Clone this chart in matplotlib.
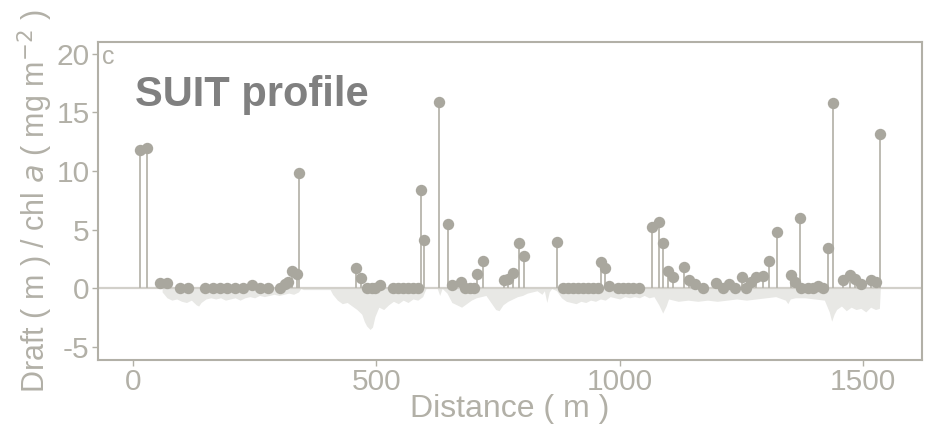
import numpy as np
import matplotlib
matplotlib.use("Agg")
import matplotlib.pyplot as plt

# Chlorophyll a along the SUIT transect (distance in m, chl a in mg m^-2)
chl_distance = [14, 29, 55, 70, 97, 113, 148, 164, 179, 193, 209, 226, 244, 261, 277,
                302, 312, 318, 326, 336, 341, 458, 468, 480, 490, 497, 507, 534, 544,
                555, 565, 575, 585, 591, 598, 629, 647, 656, 673, 682, 692, 700, 707,
                718, 762, 771, 781, 793, 803, 870, 884, 894, 904, 915, 925, 935, 945,
                956, 961, 970, 978, 997, 1007, 1017, 1028, 1040, 1066, 1080, 1089,
                1099, 1110, 1131, 1142, 1154, 1171, 1198, 1211, 1224, 1236, 1251,
                1260, 1270, 1279, 1293, 1307, 1322, 1352, 1359, 1370, 1373, 1387,
                1397, 1407, 1418, 1428, 1437, 1459, 1472, 1483, 1496, 1515, 1527, 1534]
chl_a = [11.8, 12.0, 0.45, 0.5, 0, 0, 0, 0, 0, 0, 0, 0, 0.25, 0, 0,
         0, 0.4, 0.55, 1.5, 1.2, 9.8, 1.7, 0.9, 0, 0, 0, 0.3, 0, 0,
         0, 0, 0, 0, 8.35, 4.15, 15.9, 5.5, 0.25, 0.55, 0, 0, 0, 1.25,
         2.3, 0.7, 0.8, 1.3, 3.9, 2.8, 3.95, 0, 0, 0, 0, 0, 0, 0,
         0, 2.25, 1.7, 0.2, 0, 0, 0, 0, 0, 5.2, 5.65, 3.9,
         1.5, 1.0, 1.8, 0.7, 0.4, 0, 0.45, 0.05, 0.35, 0, 1.0,
         0.05, 0.55, 1.0, 1.1, 2.35, 4.85, 1.15, 0.55, 6.0, 0, 0,
         0, 0.2, 0, 3.45, 15.8, 0.7, 1.15, 0.8, 0.4, 0.75, 0.55, 13.2]

# Ice draft along the transect (m, negative below the surface)
draft_distance = [60, 70, 80, 90, 100, 110, 120, 130, 135, 140, 150, 160, 170, 180, 190,
                  200, 210, 220, 230, 240, 250, 260, 270, 280, 290, 300, 310, 320, 330,
                  340, 345, 350, 380, 405,
                  410, 420, 430, 440, 450, 460, 470, 475, 480, 487, 492, 497, 505, 515,
                  525, 535, 545, 555, 565, 575, 585, 595, 602,
                  625, 630, 635,
                  645, 655, 665, 675, 685, 695, 705, 715, 725, 735, 745, 752, 760, 770,
                  780, 790, 800, 810, 820, 830, 840, 845, 850, 855, 860,
                  870, 880, 890, 900, 910, 920, 930, 940, 950, 960, 970, 980, 990, 1000,
                  1010, 1020, 1030, 1040, 1050, 1060, 1070, 1080, 1088, 1095, 1100, 1110,
                  1120, 1140, 1160, 1180, 1200, 1220, 1240, 1260, 1280, 1300, 1320, 1340,
                  1345, 1350, 1360, 1380, 1400, 1420, 1430, 1435, 1440, 1445, 1455, 1465,
                  1475, 1485, 1495, 1505, 1515, 1525, 1533, 1535]
draft = [-0.3, -0.8, -1.0, -0.9, -1.1, -1.2, -1.0, -1.4, -1.5, -1.2, -0.9, -0.8, -0.9, -0.8, -1.0,
         -0.9, -0.8, -1.0, -0.8, -0.7, -0.8, -0.6, -0.7, -0.6, -0.5, -0.6, -0.5, -0.4, -0.5,
         -0.3, 0.0, -0.1, -0.1, -0.1,
         -0.5, -1.0, -1.3, -1.2, -1.5, -1.8, -2.2, -2.8, -3.2, -3.5, -3.3, -2.4, -1.6, -1.8,
         -1.4, -1.1, -1.3, -1.0, -1.2, -0.9, -1.0, -0.7, 0.0,
         0.0, -0.6, 0.0,
         -0.4, -1.2, -1.4, -1.6, -1.3, -1.0, -0.8, -0.7, -0.6, -1.2, -1.8, -1.9, -1.4, -1.1,
         -0.9, -0.7, -0.6, -0.4, -0.3, -0.2, -0.5, -0.2, -1.2, -0.3, 0.0,
         -0.2, -0.8, -1.1, -1.2, -1.3, -1.1, -1.2, -1.0, -1.1, -0.9, -1.0, -0.7, -0.8, -0.9,
         -0.7, -0.8, -0.7, -0.8, -0.6, -0.8, -0.7, -1.4, -2.1, -1.5, -0.9, -1.0,
         -1.1, -1.0, -1.1, -1.0, -1.1, -1.0, -0.9, -1.0, -0.9, -0.8, -0.7, -1.0,
         -1.3, -0.9, -0.8, -0.8, -0.9, -1.0, -2.0, -2.8, -2.2, -1.8, -1.5, -1.9,
         -1.6, -1.8, -1.7, -2.0, -1.6, -1.8, -1.7, 0.0]

x_ticks = [0, 500, 1000, 1500]
y_ticks = [-5, 0, 5, 10, 15, 20]

axis_grey = "#b2b0a7"
mark_grey = "#a9a79e"
stem_grey = "#b7b5ad"
fill_grey = "#e8e8e5"

plt.rcParams["font.family"] = ["Liberation Sans", "DejaVu Sans"]
plt.rcParams["axes.unicode_minus"] = False

fig = plt.figure(figsize=(9.32, 4.25), dpi=100)
ax = fig.add_axes([0.105, 0.153, 0.884, 0.748])

# draft as a filled area below the surface
ax.fill_between(draft_distance, draft, 0, color=fill_grey, linewidth=0, zorder=1)
ax.axhline(0, color="#d2d0ca", linewidth=1.6, zorder=2)

# chl a lollipops
ax.vlines(chl_distance, 0, chl_a, color=stem_grey, linewidth=1.3, zorder=3)
ax.plot(chl_distance, chl_a, linestyle="none", marker="o", markersize=8.2,
        color=mark_grey, markeredgewidth=0, zorder=4)

ax.set_xlim(-72, 1620)
ax.set_ylim(-6.1, 21.0)
ax.set_xticks(x_ticks)
ax.set_yticks(y_ticks)

for s in ax.spines.values():
    s.set_color(axis_grey)
    s.set_linewidth(1.5)

ax.tick_params(axis="both", colors=axis_grey, labelcolor=axis_grey, labelsize=21.5,
               length=4, width=1.0, pad=2)

ax.set_xlabel("Distance ( m )", fontsize=23, color=axis_grey, labelpad=-2)
ax.set_ylabel(r"Draft ( m ) / chl $\it{a}$ ( mg m$^{-2}$ )", fontsize=22,
              color=axis_grey, labelpad=1)

ax.text(0.005, 0.99, "c", transform=ax.transAxes, fontsize=18, color=axis_grey,
        ha="left", va="top")
ax.text(0.045, 0.80, "SUIT profile", transform=ax.transAxes, fontsize=30,
        fontweight="bold", color="#808080", ha="left", va="baseline")

fig.savefig("out.png", dpi=100)
